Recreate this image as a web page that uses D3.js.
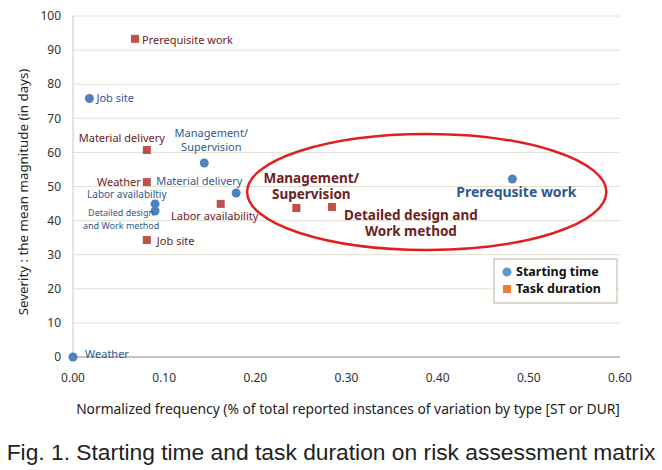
<!DOCTYPE html>
<html>
<head>
	<title>risk matrix</title>
	<style>
		body{ margin:0; background:#fff; }
		text{ font-family: "Noto Sans", sans-serif; }
		.grid line{ stroke:#e4e0d0; stroke-width:1; }
		.tick-label{ font-size:12px; fill:#333; }
		.lbl-st{ fill:#2f5a8e; }
		.lbl-dur{ fill:#6b2222; }
	</style>
	<script src="https://d3js.org/d3.v7.min.js"></script>
</head>
<body>
<svg width="662" height="470"></svg>
<script>

	// starting time (ST) points
	var stNames = ["Job site","Management/Supervision","Material delivery","Labor availabiltiy","Detailed design and Work method","Prerequsite work","Weather"],
	    stFreq  = [0.018, 0.144, 0.179, 0.090, 0.090, 0.482, 0.000],
	    stSev   = [75.8, 56.9, 48.1, 44.9, 42.8, 52.2, 0.0];

	// task duration (DUR) points
	var durNames = ["Prerequisite work","Material delivery","Weather","Job site","Labor availability","Management/Supervision","Detailed design and Work method"],
	    durFreq  = [0.068, 0.081, 0.081, 0.081, 0.162, 0.245, 0.284],
	    durSev   = [93.3, 60.7, 51.3, 34.3, 44.9, 43.7, 44.0];

	var xTicks = [0, 0.1, 0.2, 0.3, 0.4, 0.5, 0.6],
	    yTicks = [0, 10, 20, 30, 40, 50, 60, 70, 80, 90, 100];

	var legendNames = ["Starting time", "Task duration"];

	// label placement (pixel offsets from the point), kept apart from the data
	var stLayout = [
		{lines:["Job site"], dx:7, dy:0, anchor:"start", size:11},
		{lines:["Management/","Supervision"], dx:7, dy:-30, anchor:"middle", size:11, lh:14.5},
		{lines:["Material delivery"], dx:-80, dy:-12, anchor:"start", size:11},
		{lines:["Labor availabiltiy"], dx:-68, dy:-9, anchor:"start", size:10},
		{lines:["Detailed design","and Work method"], dx:-34, dy:2, anchor:"middle", size:9, lh:13},
		{lines:["Prerequsite work"], dx:4, dy:13, anchor:"middle", size:14, bold:true},
		{lines:["Weather"], dx:12, dy:-3, anchor:"start", size:11}
	];
	var durLayout = [
		{lines:["Prerequisite work"], dx:7, dy:1, anchor:"start", size:11},
		{lines:["Material delivery"], dx:-25, dy:-12, anchor:"middle", size:11},
		{lines:["Weather"], dx:-6, dy:0, anchor:"end", size:11},
		{lines:["Job site"], dx:10, dy:1, anchor:"start", size:11},
		{lines:["Labor availability"], dx:-6, dy:12, anchor:"middle", size:11},
		{lines:["Management/","Supervision"], dx:15, dy:-30, anchor:"middle", size:13.5, bold:true},
		{lines:["Detailed design and","Work method"], dx:79, dy:8, anchor:"middle", size:13.5, bold:true}
	];

	// highlight ellipse, in data units
	var ring = {cx:0.388, cy:48.4, rx:0.197, ry:17};

	var svg = d3.select("svg");

	var x = d3.scaleLinear().domain([0, 0.6]).range([73, 620]),
	    y = d3.scaleLinear().domain([0, 100]).range([357, 16]);

	// grid
	svg.append("g").attr("class","grid")
	   .selectAll("line").data(yTicks.filter(function(d){return d>0;}))
	   .enter().append("line")
	   .attr("x1", x(0)).attr("x2", x(0.6))
	   .attr("y1", function(d){return y(d);}).attr("y2", function(d){return y(d);});

	// axes lines
	svg.append("line").attr("x1",x(0)).attr("x2",x(0)).attr("y1",y(0)).attr("y2",y(100))
	   .attr("stroke","#c8c8c8").attr("stroke-width",1);
	svg.append("line").attr("x1",x(0)).attr("x2",x(0.6)).attr("y1",y(0)).attr("y2",y(0))
	   .attr("stroke","#b0b0b0").attr("stroke-width",1.5);

	// tick labels
	svg.selectAll(".ytl").data(yTicks).enter().append("text")
	   .attr("class","tick-label")
	   .attr("x", 61).attr("y", function(d){return y(d);})
	   .attr("dy","0.35em").attr("text-anchor","end")
	   .text(function(d){return d;});

	svg.selectAll(".xtl").data(xTicks).enter().append("text")
	   .attr("class","tick-label")
	   .attr("x", function(d){return x(d);}).attr("y", 382)
	   .attr("text-anchor","middle")
	   .text(d3.format(".2f"));

	// axis titles
	svg.append("text")
	   .attr("transform","translate(28,192) rotate(-90)")
	   .attr("text-anchor","middle").attr("font-size",13.3).attr("fill","#222")
	   .text("Severity : the mean magnitude (in days)");

	svg.append("text")
	   .attr("x", 348).attr("y", 414)
	   .attr("text-anchor","middle").attr("font-size",13.8).attr("fill","#222")
	   .text("Normalized frequency (% of total reported instances of variation by type [ST or DUR]");

	// caption
	svg.append("text")
	   .attr("x", 331).attr("y", 460)
	   .attr("text-anchor","middle").attr("font-size",22.8).attr("fill","#222")
	   .style("font-family","'Liberation Sans', sans-serif")
	   .text("Fig. 1. Starting time and task duration on risk assessment matrix");

	// points
	var stData = stNames.map(function(n,i){return {name:n, f:stFreq[i], s:stSev[i], lay:stLayout[i]};}),
	    durData = durNames.map(function(n,i){return {name:n, f:durFreq[i], s:durSev[i], lay:durLayout[i]};});

	svg.selectAll(".st").data(stData).enter().append("circle")
	   .attr("class","st")
	   .attr("cx", function(d){return x(d.f);}).attr("cy", function(d){return y(d.s);})
	   .attr("r", 4.5).attr("fill","#4f81bd");

	svg.selectAll(".dur").data(durData).enter().append("rect")
	   .attr("class","dur")
	   .attr("x", function(d){return x(d.f)-4;}).attr("y", function(d){return y(d.s)-4;})
	   .attr("width", 8).attr("height", 8).attr("fill","#c0504d");

	function addLabels(data, cls){
		data.forEach(function(d){
			var L = d.lay,
			    lh = L.lh || L.size*1.2,
			    t = svg.append("text").attr("class", cls)
			           .attr("text-anchor", L.anchor)
			           .attr("font-size", L.size)
			           .attr("font-weight", L.bold ? "bold" : "normal");
			L.lines.forEach(function(s,j){
				t.append("tspan")
				 .attr("x", x(d.f)+L.dx)
				 .attr("y", y(d.s)+L.dy+j*lh)
				 .attr("dy","0.35em")
				 .text(s);
			});
		});
	}
	addLabels(stData, "lbl-st");
	addLabels(durData, "lbl-dur");

	// ellipse
	svg.append("ellipse")
	   .attr("cx", x(ring.cx)).attr("cy", y(ring.cy))
	   .attr("rx", x(ring.rx)-x(0)).attr("ry", y(0)-y(ring.ry))
	   .attr("fill","none").attr("stroke","#e02020").attr("stroke-width",2.5);

	// legend
	var lg = svg.append("g").attr("transform","translate(494,259)");
	lg.append("rect").attr("width",123).attr("height",44)
	  .attr("fill","#fff").attr("stroke","#b8b49a").attr("stroke-width",1);
	lg.append("circle").attr("cx",13).attr("cy",13).attr("r",4.5).attr("fill","#5b9bd5");
	lg.append("rect").attr("x",9).attr("y",26).attr("width",8).attr("height",8).attr("fill","#ed7d31");
	lg.selectAll(".lt").data(legendNames).enter().append("text")
	  .attr("x",22).attr("y",function(d,i){return 13+i*17;})
	  .attr("dy","0.35em").attr("font-size",12.5).attr("font-weight","bold").attr("fill","#111")
	  .text(function(d){return d;});

</script>
</body>
</html>
